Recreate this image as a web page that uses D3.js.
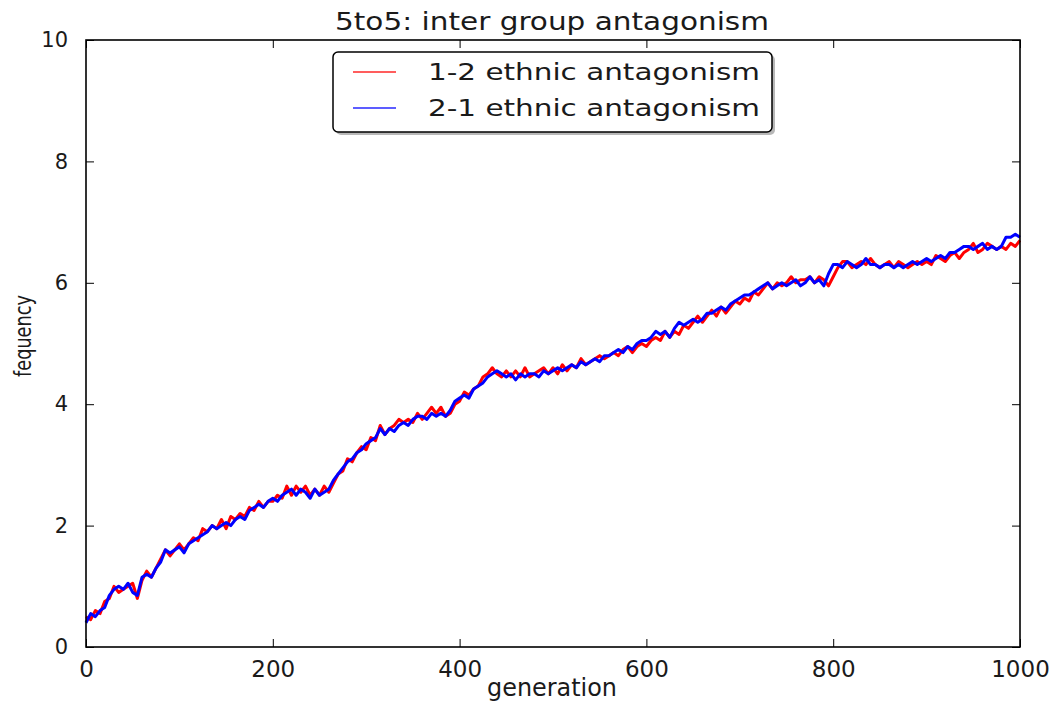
<!DOCTYPE html>
<html>
<head>
<meta charset="utf-8">
<script src="https://cdn.jsdelivr.net/npm/d3@7"></script>
<style>
  body { margin: 0; background: #fff; }
  text { font-family: "DejaVu Sans", sans-serif; fill: #1a1a1a; }
</style>
</head>
<body>
<svg width="1054" height="702"></svg>
<script>
// values, one every 5 generations
var step = 5;
var xTicks = [0, 200, 400, 600, 800, 1000],
    yTicks = [0, 2, 4, 6, 8, 10];
var seriesNames = ["1-2 ethnic antagonism", "2-1 ethnic antagonism"],
    seriesColors = ["#ff0000", "#0000ff"];

var red = [
  0.5,0.45,0.6,0.55,0.75,0.8,1.0,0.9,0.95,1.0,
  1.05,0.8,1.1,1.25,1.15,1.3,1.45,1.6,1.5,1.6,
  1.7,1.6,1.7,1.8,1.75,1.95,1.9,2.0,1.95,2.1,
  1.95,2.15,2.1,2.2,2.15,2.3,2.25,2.4,2.3,2.4,
  2.4,2.5,2.45,2.65,2.5,2.65,2.55,2.65,2.5,2.6,
  2.5,2.65,2.55,2.7,2.85,2.9,3.1,3.05,3.2,3.3,
  3.25,3.45,3.4,3.65,3.5,3.6,3.65,3.75,3.7,3.75,
  3.7,3.85,3.75,3.85,3.95,3.85,3.95,3.8,3.85,4.0,
  4.05,4.2,4.15,4.25,4.3,4.45,4.5,4.6,4.5,4.45,
  4.55,4.45,4.55,4.45,4.6,4.45,4.5,4.55,4.6,4.5,
  4.6,4.5,4.65,4.55,4.65,4.6,4.75,4.65,4.7,4.75,
  4.8,4.75,4.8,4.85,4.8,4.9,4.95,4.85,4.95,5.0,
  4.95,5.05,5.1,5.05,5.2,5.1,5.2,5.15,5.3,5.25,
  5.35,5.45,5.35,5.45,5.55,5.45,5.6,5.5,5.6,5.7,
  5.65,5.75,5.7,5.85,5.8,5.9,6.0,5.9,6.0,5.95,
  6.0,6.1,6.0,6.05,6.05,6.1,6.0,6.1,6.05,5.95,
  6.1,6.25,6.35,6.35,6.25,6.3,6.35,6.3,6.4,6.3,
  6.25,6.3,6.35,6.25,6.35,6.3,6.25,6.3,6.35,6.3,
  6.35,6.3,6.45,6.4,6.35,6.45,6.5,6.4,6.5,6.55,
  6.65,6.5,6.55,6.65,6.6,6.55,6.6,6.55,6.65,6.6,
  6.7
];

var blue = [
  0.4,0.55,0.5,0.6,0.65,0.85,0.95,1.0,0.95,1.05,
  0.9,0.85,1.15,1.2,1.15,1.3,1.4,1.6,1.55,1.6,
  1.65,1.55,1.7,1.75,1.8,1.85,1.9,2.0,1.95,2.0,
  2.05,2.0,2.1,2.15,2.1,2.25,2.3,2.35,2.3,2.4,
  2.45,2.4,2.5,2.55,2.6,2.5,2.6,2.55,2.45,2.6,
  2.5,2.55,2.6,2.75,2.85,2.95,3.05,3.1,3.2,3.25,
  3.35,3.4,3.45,3.6,3.5,3.6,3.55,3.65,3.7,3.65,
  3.75,3.8,3.8,3.75,3.85,3.8,3.85,3.8,3.9,4.05,
  4.1,4.15,4.1,4.25,4.3,4.35,4.45,4.5,4.55,4.5,
  4.45,4.5,4.4,4.5,4.45,4.5,4.5,4.45,4.55,4.5,
  4.55,4.6,4.55,4.6,4.65,4.6,4.7,4.65,4.7,4.75,
  4.7,4.8,4.8,4.85,4.9,4.85,4.95,4.9,5.0,5.05,
  5.05,5.1,5.2,5.15,5.2,5.1,5.25,5.35,5.3,5.35,
  5.4,5.35,5.4,5.5,5.5,5.55,5.6,5.55,5.65,5.7,
  5.75,5.8,5.8,5.85,5.9,5.95,6.0,5.9,5.95,6.0,
  5.95,6.0,6.05,5.95,6.0,6.1,6.0,6.05,5.95,6.15,
  6.3,6.3,6.25,6.35,6.3,6.25,6.3,6.4,6.3,6.3,
  6.25,6.3,6.3,6.25,6.3,6.25,6.3,6.35,6.3,6.35,
  6.4,6.35,6.4,6.45,6.4,6.5,6.5,6.55,6.6,6.6,
  6.55,6.6,6.65,6.55,6.6,6.55,6.6,6.75,6.75,6.8,
  6.75
];

var svg = d3.select("svg"),
    margin = { top: 40, right: 34, bottom: 55, left: 86 },
    width = +svg.attr("width") - margin.left - margin.right,
    height = +svg.attr("height") - margin.top - margin.bottom;

var x = d3.scaleLinear().domain([0, 1000]).range([0, width]),
    y = d3.scaleLinear().domain([0, 10]).range([height, 0]);

var g = svg.append("g")
    .attr("transform", "translate(" + margin.left + "," + margin.top + ")");

// lijnen, rood eerst zodat blauw erover valt
var line = d3.line()
    .x(function(d, i) { return x(i * step); })
    .y(function(d) { return y(d); });

[red, blue].forEach(function(s, k) {
  g.append("path")
    .datum(s)
    .attr("fill", "none")
    .attr("stroke", seriesColors[k])
    .attr("stroke-width", 3)
    .attr("stroke-linejoin", "round")
    .attr("d", line);
});

// assen met ticks naar binnen, op alle vier zijden
function styleAxis(sel) {
  sel.select(".domain").remove();
  sel.selectAll(".tick line").attr("stroke", "#000").attr("stroke-width", 1);
}

g.append("g")
    .attr("transform", "translate(0," + height + ")")
    .call(d3.axisBottom(x).tickValues(xTicks).tickSizeInner(-8).tickPadding(14).tickFormat(d3.format("d")))
    .call(styleAxis)
    .selectAll("text").style("font-size", "23px").style("font-family", "DejaVu Sans").attr("fill", "#1a1a1a");

g.append("g")
    .call(d3.axisTop(x).tickValues(xTicks).tickSizeInner(-8).tickFormat(""))
    .call(styleAxis);

g.append("g")
    .call(d3.axisLeft(y).tickValues(yTicks).tickSizeInner(-8).tickPadding(18).tickFormat(d3.format("d")))
    .call(styleAxis)
    .selectAll("text").style("font-size", "21px").style("font-family", "DejaVu Sans").attr("fill", "#1a1a1a");

g.append("g")
    .attr("transform", "translate(" + width + ",0)")
    .call(d3.axisRight(y).tickValues(yTicks).tickSizeInner(-8).tickFormat(""))
    .call(styleAxis);

g.append("rect")
    .attr("width", width)
    .attr("height", height)
    .attr("fill", "none")
    .attr("stroke", "#000")
    .attr("stroke-width", 1.6);

// titel en aslabels
svg.append("text")
    .attr("x", 552).attr("y", 30)
    .attr("text-anchor", "middle")
    .attr("textLength", 434).attr("lengthAdjust", "spacingAndGlyphs")
    .style("font-size", "25px")
    .text("5to5: inter group antagonism");

svg.append("text")
    .attr("x", 552).attr("y", 696)
    .attr("text-anchor", "middle")
    .attr("textLength", 130).attr("lengthAdjust", "spacingAndGlyphs")
    .style("font-size", "24px")
    .text("generation");

svg.append("text")
    .attr("transform", "translate(31,336) rotate(-90)")
    .attr("text-anchor", "middle")
    .attr("textLength", 82).attr("lengthAdjust", "spacingAndGlyphs")
    .style("font-size", "23px")
    .text("fequency");

// legenda
var legend = svg.append("g").attr("transform", "translate(333,52)");

legend.append("rect")
    .attr("x", 3).attr("y", 3)
    .attr("width", 439).attr("height", 80)
    .attr("rx", 5)
    .attr("fill", "#888").attr("opacity", 0.6);

legend.append("rect")
    .attr("width", 439).attr("height", 80)
    .attr("rx", 5)
    .attr("fill", "#fff")
    .attr("stroke", "#000")
    .attr("stroke-width", 1.5);

seriesNames.forEach(function(name, i) {
  var row = legend.append("g").attr("transform", "translate(0," + (20 + i * 36) + ")");
  row.append("line")
      .attr("x1", 20).attr("x2", 63)
      .attr("stroke", seriesColors[i])
      .attr("stroke-opacity", 0.85)
      .attr("stroke-width", 1.5);
  row.append("text")
      .attr("x", 95).attr("y", 8)
      .attr("textLength", 332).attr("lengthAdjust", "spacingAndGlyphs")
      .style("font-size", "23px")
      .text(name);
});
</script>
</body>
</html>
